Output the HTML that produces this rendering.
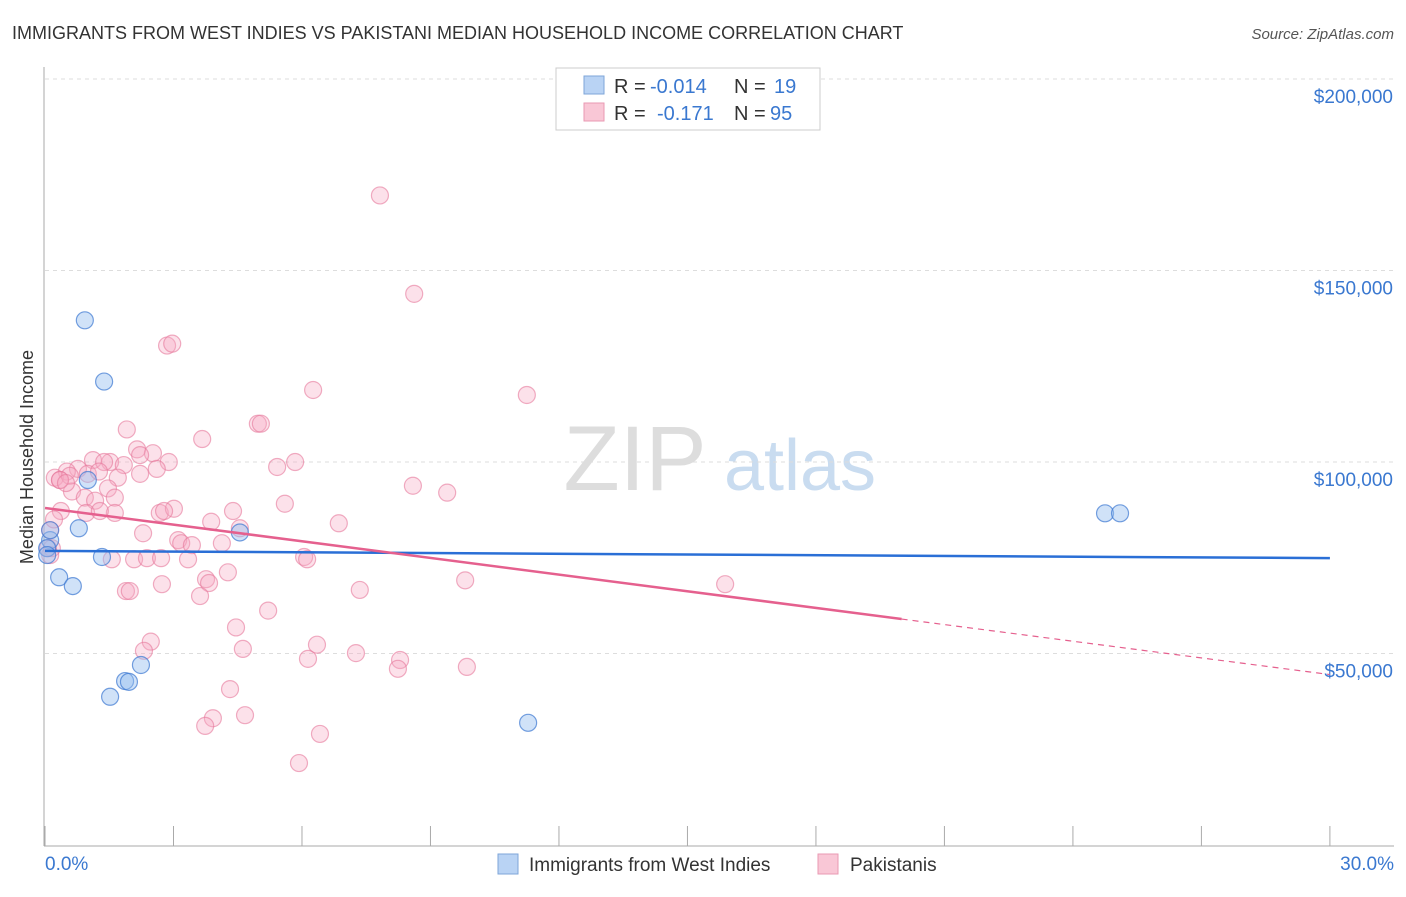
<!DOCTYPE html>
<html><head><meta charset="utf-8"><style>
body{margin:0;background:#fff;font-family:"Liberation Sans",sans-serif;}
svg text{font-family:"Liberation Sans",sans-serif;}
</style></head><body>
<svg id="c" width="1406" height="892" xmlns="http://www.w3.org/2000/svg">
<text x="12" y="39" font-size="18" fill="#333">IMMIGRANTS FROM WEST INDIES VS PAKISTANI MEDIAN HOUSEHOLD INCOME CORRELATION CHART</text>
<text x="1394" y="39" font-size="15" fill="#555" font-style="italic" text-anchor="end">Source: ZipAtlas.com</text>
<text x="33" y="457" font-size="18" fill="#333" transform="rotate(-90 33 457)" text-anchor="middle">Median Household Income</text>
<g><text x="635" y="490" font-size="92" fill="#ddd" font-family="Liberation Serif" text-anchor="middle">ZIP</text><text x="800" y="490" font-size="72" fill="#c9dcf0" text-anchor="middle">atlas</text></g>
<g id="grid"></g><g id="axes"></g><g id="marks"></g>
<g>
<rect x="556" y="68" width="264" height="62" fill="#fff" stroke="#ccc"/>
<rect x="584" y="76" width="20" height="18" fill="#b9d3f4" stroke="#7ea6d8"/>
<text x="614" y="93" font-size="20" fill="#333">R = </text><text x="650" y="93" font-size="20" fill="#3a78d0">-0.014</text>
<text x="734" y="93" font-size="20" fill="#333">N = </text><text x="774" y="93" font-size="20" fill="#3a78d0">19</text>
<rect x="584" y="103" width="20" height="18" fill="#f9c7d6" stroke="#e99ab3"/>
<text x="614" y="120" font-size="20" fill="#333">R = </text><text x="657" y="120" font-size="20" fill="#3a78d0">-0.171</text>
<text x="734" y="120" font-size="20" fill="#333">N = </text><text x="770" y="120" font-size="20" fill="#3a78d0">95</text>
</g>
<g>
<rect x="498" y="854" width="20" height="20" fill="#b9d3f4" stroke="#7ea6d8"/>
<text x="529" y="871" font-size="19" fill="#333">Immigrants from West Indies</text>
<rect x="818" y="854" width="20" height="20" fill="#f9c7d6" stroke="#e99ab3"/>
<text x="850" y="871" font-size="19" fill="#333">Pakistanis</text>
</g>
</svg>
<script>
const yTicks=[50000,100000,150000,200000];
const yTickLabels=["$50,000","$100,000","$150,000","$200,000"];
const xTickVals=[0,3,6,9,12,15,18,21,24,27,30];
const blueX=[0.93,1.38,1.00,0.79,0.12,0.05,0.05,0.33,0.65,1.33,4.55,2.24,1.87,1.96,1.52,11.28,24.75,25.10,0.12];
const blueY=[137000,121000,95300,82700,79600,77500,75700,69900,67600,75200,81600,47000,42800,42600,38700,31900,86600,86600,82200];
const pinkX=[7.82,8.62,2.85,2.97,6.26,11.25,4.97,5.04,1.91,3.67,2.15,2.52,2.22,1.12,1.52,5.84,1.84,2.89,1.38,0.77,0.51,5.42,0.23,0.35,0.58,1.00,1.26,1.70,2.61,8.59,9.39,0.63,1.47,0.93,1.63,1.17,5.60,2.68,3.01,2.78,4.39,1.63,0.96,0.37,3.88,6.86,4.55,2.29,3.11,3.18,4.13,3.43,0.07,6.05,6.12,2.08,1.56,2.38,2.71,3.34,4.27,3.76,3.83,9.81,2.73,15.88,1.89,1.98,3.62,7.35,5.21,4.46,2.47,6.35,2.31,4.62,6.14,7.26,8.29,8.24,9.85,4.32,4.67,3.92,3.74,6.42,5.93,0.12,0.16,0.12,0.35,0.49,1.28,0.21,2.22];
const pinkY=[169600,143900,130400,130900,118800,117500,110000,110000,108500,106000,103300,102300,101800,100500,100000,100000,99200,100000,100000,98200,97500,98700,95900,95300,96400,96900,97500,95900,98200,93800,92000,92300,93100,90700,90700,89900,89100,86700,87800,87200,87200,86700,86700,87200,84400,84000,82700,81400,79600,78800,78800,78300,77500,75200,74600,74600,74600,74900,74900,74600,71200,69400,68400,69100,68100,68100,66300,66300,65000,66600,61200,56800,53100,52300,50700,51200,48600,50100,48300,46000,46500,40700,33900,33100,31100,29000,21400,82200,77500,75700,95300,94500,87200,85000,96900];
const trendBlue=[76800,74900];   // $ at x=0% and x=30%
const trendPink=[88000,-1450];   // intercept, slope per %
const pinkSolidEnd=20;
const X=v=>45+v*42.83, Y=v=>845-v/261.1;
const NS="http://www.w3.org/2000/svg";
function mk(p,t,a){const e=document.createElementNS(NS,t);for(const k in a)e.setAttribute(k,a[k]);p.appendChild(e);return e;}
const grid=document.getElementById('grid'),axes=document.getElementById('axes'),marks=document.getElementById('marks');
yTicks.forEach((v,i)=>{
 const l=mk(grid,'line',{x1:45,x2:1394,y1:Y(v),y2:Y(v),stroke:'#ddd','stroke-dasharray':'4 4'});
 
 
 const t=mk(axes,'text',{x:1393,y:Y(v)+24,'font-size':19,fill:'#3a78d0','text-anchor':'end'});t.textContent=yTickLabels[i];
 
 
});
const tl=mk(grid,'line',{x1:45,x2:1394,y1:79,y2:79,stroke:'#ddd','stroke-dasharray':'4 4'});


const ya=mk(axes,'line',{x1:44,x2:44,y1:67,y2:846,stroke:'#aaa'});


const xa=mk(axes,'line',{x1:44,x2:1394,y1:846,y2:846,stroke:'#aaa'});


xTickVals.forEach(v=>{const l=mk(axes,'line',{x1:X(v),x2:X(v),y1:826,y2:846,stroke:'#aaa'});
 
 });
const xl0=mk(axes,'text',{x:45,y:870,'font-size':19,fill:'#3a78d0'});xl0.textContent='0.0%';


const xl1=mk(axes,'text',{x:1394,y:870,'font-size':19,fill:'#3a78d0','text-anchor':'end'});xl1.textContent='30.0%';


pinkX.forEach((x,i)=>{const c=mk(marks,'circle',{cx:X(x),cy:Y(pinkY[i]),r:8.5,fill:'rgba(246,170,195,0.35)',stroke:'rgba(230,120,155,0.6)','stroke-width':1.2});
 
 });
blueX.forEach((x,i)=>{const c=mk(marks,'circle',{cx:X(x),cy:Y(blueY[i]),r:8.5,fill:'rgba(150,190,240,0.45)',stroke:'rgba(60,120,210,0.7)','stroke-width':1.2});
 
 });
const bl=mk(marks,'line',{x1:X(0),y1:Y(trendBlue[0]),x2:X(30),y2:Y(trendBlue[1]),stroke:'#2a6fd6','stroke-width':2.5});


const pf=x=>trendPink[0]+trendPink[1]*x;
const pl=mk(marks,'line',{x1:X(0),y1:Y(pf(0)),x2:X(pinkSolidEnd),y2:Y(pf(pinkSolidEnd)),stroke:'#e5608e','stroke-width':2.5});


const pd=mk(marks,'line',{x1:X(pinkSolidEnd),y1:Y(pf(pinkSolidEnd)),x2:X(30),y2:Y(pf(30)),stroke:'#e5608e','stroke-width':1.2,'stroke-dasharray':'6 5'});


</script>
</body></html>
